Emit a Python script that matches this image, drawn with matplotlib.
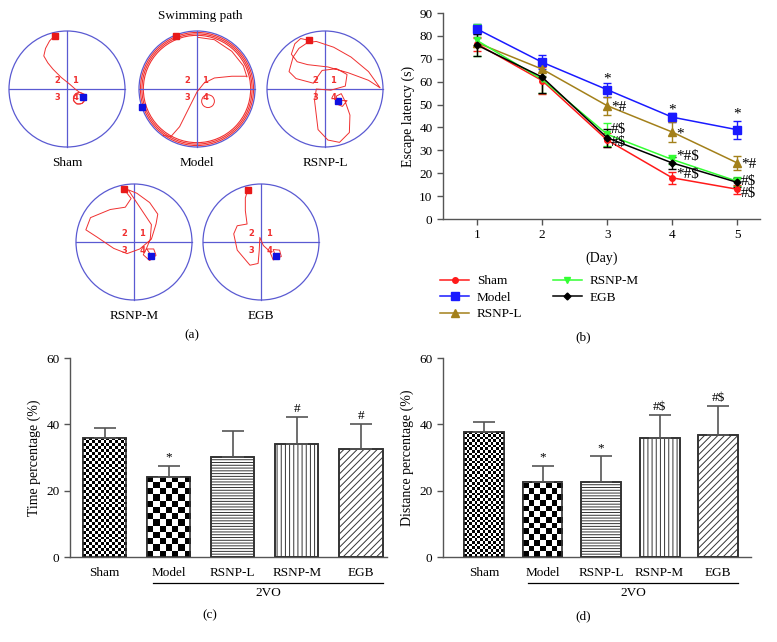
import numpy as np
import matplotlib
matplotlib.use("Agg")
import matplotlib.pyplot as plt
from matplotlib.patches import Circle
from matplotlib.transforms import blended_transform_factory

plt.rcParams['font.family'] = ['Liberation Serif', 'DejaVu Serif']
plt.rcParams['hatch.color'] = '#333333'
plt.rcParams['hatch.linewidth'] = 0.7

# ---------------- data ----------------
groups = ['Sham', 'Model', 'RSNP-L', 'RSNP-M', 'EGB']
days = [1, 2, 3, 4, 5]

latency = {
    'Sham':   [76.5, 60.5, 34.5, 18.0, 13.0],
    'Model':  [83.0, 68.5, 56.5, 44.5, 39.0],
    'RSNP-L': [77.0, 65.5, 49.5, 38.0, 24.5],
    'RSNP-M': [78.0, 61.0, 37.0, 26.0, 16.5],
    'EGB':    [76.0, 62.0, 35.5, 24.5, 16.0],
}
latency_err = {
    'Sham':   [3.0, 6.0, 3.0, 2.5, 2.0],
    'Model':  [2.0, 3.0, 3.0, 2.0, 4.0],
    'RSNP-L': [2.0, 3.0, 4.0, 4.5, 3.0],
    'RSNP-M': [7.0, 6.0, 5.0, 2.0, 2.0],
    'EGB':    [5.0, 7.0, 4.0, 2.5, 2.0],
}
# significance labels placed beside points: (day, value, text, placement)
latency_marks = [
    (3, 61.0, '*', 'c'), (3, 48.5, '*#', 'r'), (3, 39.0, '#$', 'r'), (3, 33.5, '#$', 'r'),
    (4, 47.8, '*', 'c'), (4, 37.0, '*', 'r'), (4, 27.5, '*#$', 'r'), (4, 19.5, '*#$', 'r'),
    (5, 46.0, '*', 'c'), (5, 24.0, '*#', 'r'), (5, 16.4, '#$', 'r'), (5, 11.0, '#$', 'r'),
]

time_pct = [36.0, 24.2, 30.2, 34.2, 32.5]
time_err = [3.0, 3.3, 7.8, 8.1, 7.5]
time_sig = ['', '*', '', '#', '#']

dist_pct = [37.7, 22.5, 22.7, 35.8, 36.7]
dist_err = [3.1, 5.0, 7.8, 6.9, 8.8]
dist_sig = ['', '*', '*', '#$', '#$']

# swimming paths (normalized to pool radius)
paths = {
    'Sham': ([-0.21, -0.30, -0.37, -0.40, -0.33, -0.24, -0.10, 0.05, 0.14, 0.22, 0.30, 0.31, 0.26, 0.17, 0.11, 0.12, 0.19, 0.28],
             [0.92, 0.83, 0.70, 0.57, 0.45, 0.34, 0.20, 0.08, 0.0, -0.06, -0.09, -0.17, -0.25, -0.26, -0.20, -0.12, -0.08, -0.14]),
    'Model': ([0.86, 0.60, 0.30, 0.12, 0.0, -0.15, -0.30, -0.45, -0.58],
              [0.22, 0.22, 0.19, 0.10, -0.05, -0.35, -0.65, -0.82, -0.80]),
    'RSNP-L': ([-0.28, -0.42, -0.52, -0.58, -0.48, -0.30, 0.05, 0.40, 0.75, 0.95, 0.75, 0.45, 0.15, -0.15, -0.30,
                -0.45, -0.55, -0.62, -0.50, -0.20, -0.15, -0.05, 0.20, 0.38, 0.35, 0.10, -0.15, -0.18, -0.15,
                -0.12, 0.05, 0.25, 0.42, 0.43, 0.35, 0.28, 0.20, 0.18, 0.30, 0.38, 0.23],
               [0.84, 0.87, 0.78, 0.60, 0.47, 0.42, 0.38, 0.28, 0.15, 0.02, 0.30, 0.55, 0.72, 0.82, 0.80,
                0.70, 0.55, 0.30, 0.18, 0.10, 0.18, 0.32, 0.35, 0.25, 0.05, -0.02, 0.0, -0.20, -0.45,
                -0.70, -0.88, -0.92, -0.75, -0.45, -0.22, -0.08, -0.12, -0.25, -0.30, -0.20, -0.20]),
    'RSNP-M': ([-0.18, -0.05, -0.15, -0.41, -0.75, -0.83, -0.63, -0.35, -0.12, 0.10, 0.30, 0.38, 0.41, 0.27,
                0.05, -0.10, 0.10, 0.30, 0.28, 0.22, 0.16, 0.27, 0.38, 0.34, 0.22, 0.30],
               [0.92, 0.75, 0.60, 0.56, 0.42, 0.21, 0.08, -0.11, -0.20, -0.12, 0.05, 0.31, 0.48, 0.68,
                0.84, 0.90, 0.60, 0.30, 0.05, -0.10, -0.22, -0.32, -0.23, -0.12, -0.12, -0.24]),
    'EGB': ([-0.23, -0.27, -0.27, -0.24, -0.41, -0.47, -0.41, -0.19, -0.05, -0.03, -0.02, 0.04, 0.15, 0.21,
             0.35, 0.32, 0.21, 0.25],
            [0.89, 0.76, 0.54, 0.31, 0.28, 0.14, -0.14, -0.40, -0.37, -0.14, 0.08, -0.06, -0.16, -0.31,
             -0.25, -0.14, -0.13, -0.24]),
}
start_pts = {'Sham': (-0.21, 0.92), 'Model': (-0.36, 0.91), 'RSNP-L': (-0.28, 0.84),
             'RSNP-M': (-0.18, 0.92), 'EGB': (-0.23, 0.89)}
end_pts = {'Sham': (0.28, -0.14), 'Model': (-0.94, -0.31), 'RSNP-L': (0.23, -0.20),
           'RSNP-M': (0.30, -0.24), 'EGB': (0.25, -0.24)}
model_laps = [0.975, 0.95, 0.925]
model_chord = ([0.02, 0.30, 0.60, 0.80, 0.86], [0.89, 0.85, 0.65, 0.40, 0.21])
sham_loop = (0.21, -0.16, 0.10)
model_loop = (0.19, -0.21, 0.11)

# ---------------- figure ----------------
W, H = 777, 642
fig = plt.figure(figsize=(W / 100, H / 100), dpi=100)


def px_axes(x0, y0, x1, y1):
    return fig.add_axes([x0 / W, 1 - y1 / H, (x1 - x0) / W, (y1 - y0) / H])


POOL = '#5a5ad2'
PATH = '#f03030'

pool_pos = {'Sham': (67, 89), 'Model': (197, 89), 'RSNP-L': (325, 89),
            'RSNP-M': (134, 242), 'EGB': (261, 242)}
R = 58
for g in groups:
    cx, cy = pool_pos[g]
    ax = px_axes(cx - R * 1.05, cy - R * 1.05, cx + R * 1.05, cy + R * 1.05)
    ax.set_xlim(-1.05, 1.05)
    ax.set_ylim(-1.05, 1.05)
    ax.set_aspect('equal')
    ax.axis('off')
    ax.add_patch(Circle((0, 0), 1.0, fill=False, ec=POOL, lw=0.9))
    ax.plot([-1, 1], [0, 0], color=POOL, lw=0.9)
    ax.plot([0, 0], [-1, 1], color=POOL, lw=0.9)
    for lab, (tx, ty) in zip(['1', '2', '3', '4'],
                             [(0.14, 0.14), (-0.16, 0.14), (-0.16, -0.14), (0.14, -0.14)]):
        ax.text(tx, ty, lab, color=PATH, fontsize=6, fontweight='bold',
                ha='center', va='center', family='DejaVu Sans')
    px, py = paths[g]
    ax.plot(px, py, color=PATH, lw=0.7)
    if g == 'Model':
        for rr in model_laps:
            ax.add_patch(Circle((0, 0), rr, fill=False, ec=PATH, lw=0.8))
        ax.plot(*model_chord, color=PATH, lw=0.7)
        ax.add_patch(Circle(model_loop[:2], model_loop[2], fill=False, ec=PATH, lw=0.7))
    if g == 'Sham':
        ax.add_patch(Circle(sham_loop[:2], sham_loop[2], fill=False, ec=PATH, lw=0.7))
    ax.plot(*start_pts[g], marker='s', ms=4.5, color='#e81818', mec='#e81818')
    ax.plot(*end_pts[g], marker='s', ms=5, color='#1010e0', mec='#1010e0')
    ax.text(0, -1.27, g, ha='center', va='center', fontsize=9.5)

fig.text(200 / W, 1 - 16 / H, 'Swimming path', ha='center', va='center', fontsize=9.5)
fig.text(192 / W, 1 - 335 / H, '(a)', ha='center', va='center', fontsize=9.5)

AX_COL = '#555555'


def style_axes(ax):
    for s in ['top', 'right']:
        ax.spines[s].set_visible(False)
    for s in ['left', 'bottom']:
        ax.spines[s].set_color(AX_COL)
        ax.spines[s].set_linewidth(1.0)
    ax.tick_params(colors=AX_COL, labelcolor='black', labelsize=9.5, width=1.0, length=4)


# ---------------- (b) ----------------
axb = px_axes(443, 13, 760, 219)
style_axes(axb)
colors = {'Sham': '#ff1a1a', 'Model': '#1a1aff', 'RSNP-L': '#a3801a',
          'RSNP-M': '#33ff33', 'EGB': '#000000'}
markers = {'Sham': 'o', 'Model': 's', 'RSNP-L': '^', 'RSNP-M': 'v', 'EGB': 'D'}
msizes = {'Sham': 4, 'Model': 5.5, 'RSNP-L': 5.5, 'RSNP-M': 5, 'EGB': 3.5}
handles = {}
for g in ['Model', 'RSNP-L', 'Sham', 'RSNP-M', 'EGB']:
    eb = axb.errorbar(days, latency[g], yerr=latency_err[g], color=colors[g],
                      marker=markers[g], ms=msizes[g], lw=1.1, capsize=3, elinewidth=1.0,
                      capthick=1.0, label=g)
    handles[g] = eb.lines[0]
axb.set_xlim(0.477, 5.35)
axb.set_ylim(0, 90)
axb.set_xticks(days)
axb.set_yticks(range(0, 91, 10))
axb.set_ylabel('Escape latency (s)', fontsize=10, labelpad=3)
axb.set_xlabel('(Day)', fontsize=10, labelpad=7)
for d, v, t, pos in latency_marks:
    if pos == 'c':
        axb.text(d, v, t, ha='center', va='center', fontsize=11)
    else:
        axb.text(d + 0.06, v, t, ha='left', va='center', fontsize=11)

leg = fig.legend([handles[g] for g in groups], groups, ncol=2,
                 loc='upper left', bbox_to_anchor=(440 / W, 1 - 275 / H),
                 frameon=False, fontsize=9.5, handlelength=2.2, handletextpad=0.6,
                 columnspacing=2.3, labelspacing=0.32, borderaxespad=0, borderpad=0)
fig.text(583 / W, 1 - 337 / H, '(b)', ha='center', va='center', fontsize=9.5)


# ---------------- bar panels ----------------
def checker(ax, bar, n_across):
    x, y = bar.get_x(), bar.get_y()
    w, h = bar.get_width(), bar.get_height()
    fig.canvas.draw()
    bb = ax.get_window_extent()
    x0, x1 = ax.get_xlim()
    y0, y1 = ax.get_ylim()
    ppx = bb.width / (x1 - x0)
    ppy = bb.height / (y1 - y0)
    sx = w / n_across
    sy = sx * ppx / ppy
    ny = int(np.ceil(h / sy))
    arr = (np.add.outer(np.arange(ny), np.arange(n_across)) % 2).astype(float)
    im = ax.imshow(arr, cmap='gray', vmin=0, vmax=1, origin='lower',
                   extent=(x, x + w, y, y + ny * sy), aspect='auto',
                   interpolation='nearest', zorder=2.5)
    im.set_clip_path(bar)


def bar_panel(rect, vals, errs, sigs, ylabel, xlim, caption_xy, caption):
    ax = px_axes(*rect)
    style_axes(ax)
    x = np.arange(len(groups))
    hatches = ['', '', '------', '||||', '/////']
    bars = ax.bar(x, vals, width=0.68, color='white', edgecolor='#333333',
                  linewidth=1.2, zorder=2)
    for b, hch in zip(bars, hatches):
        b.set_hatch(hch)
    ax.set_xlim(*xlim)
    ax.set_ylim(0, 60)
    ax.set_yticks([0, 20, 40, 60])
    checker(ax, bars[0], 15)
    checker(ax, bars[1], 7)
    # redraw edges above images
    ax.bar(x, vals, width=0.68, color='none', edgecolor='#333333', linewidth=1.2, zorder=3)
    ax.errorbar(x, vals, yerr=[np.zeros(len(vals)), errs], fmt='none',
                ecolor='#555555', elinewidth=1.2, capsize=8, capthick=1.2, zorder=4)
    for xi, v, e, s in zip(x, vals, errs, sigs):
        if s:
            ax.text(xi, v + e + 0.6, s, ha='center', va='bottom', fontsize=9.5)
    ax.set_xticks(x)
    ax.set_xticklabels(groups, fontsize=9.5)
    ax.tick_params(axis='x', length=0, pad=7)
    ax.set_xticks([2], minor=True)
    ax.tick_params(axis='x', which='minor', length=5, width=1.0, colors=AX_COL)
    ax.set_ylabel(ylabel, fontsize=10, labelpad=4)
    tr = blended_transform_factory(ax.transData, ax.transAxes)
    left = bars[1].get_x() + 0.1
    right = bars[4].get_x() + bars[4].get_width()
    ax.plot([left, right], [-0.13, -0.13], color='black', lw=0.9, transform=tr, clip_on=False)
    ax.text((left + right) / 2, -0.18, '2VO', ha='center', va='center', fontsize=9.5,
            transform=tr)
    fig.text(caption_xy[0] / W, 1 - caption_xy[1] / H, caption, ha='center', va='center',
             fontsize=9.5)
    return ax


bar_panel((70, 358, 387, 557), time_pct, time_err, time_sig, 'Time percentage (%)',
          (-0.54, 4.41), (210, 615), '(c)')
bar_panel((443, 358, 751, 557), dist_pct, dist_err, dist_sig, 'Distance percentage (%)',
          (-0.70, 4.56), (583, 616), '(d)')

fig.savefig('out.png', dpi=100)
